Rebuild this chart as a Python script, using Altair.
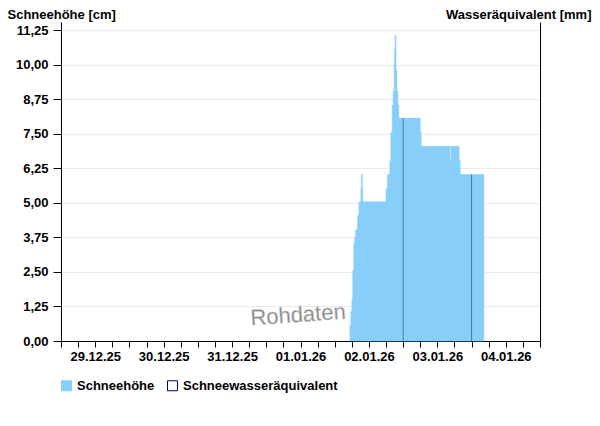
import altair as alt
import pandas as pd

# --- data ---------------------------------------------------------------
snow_times = [
    "2026-01-02T05:20", "2026-01-02T05:40", "2026-01-02T06:00", "2026-01-02T06:20",
    "2026-01-02T06:40", "2026-01-02T07:00", "2026-01-02T07:20", "2026-01-02T08:00",
    "2026-01-02T08:30", "2026-01-02T09:10", "2026-01-02T09:20", "2026-01-02T09:40",
    "2026-01-02T09:50", "2026-01-02T18:00", "2026-01-02T18:30", "2026-01-02T19:20",
    "2026-01-02T19:40", "2026-01-02T20:10", "2026-01-02T20:30", "2026-01-02T20:50",
    "2026-01-02T21:00", "2026-01-02T21:10", "2026-01-02T21:30", "2026-01-02T21:50",
    "2026-01-02T22:10", "2026-01-02T22:30", "2026-01-03T06:00", "2026-01-03T06:20",
    "2026-01-03T16:30", "2026-01-03T16:50", "2026-01-03T19:40", "2026-01-03T20:00",
    "2026-01-04T04:20",
]
snow_values = [
    0.55, 1.07, 1.50, 2.55,
    3.52, 3.77, 4.03, 4.54,
    5.04, 5.51, 6.03, 5.51,
    5.04, 5.51, 6.03, 6.52,
    7.55, 8.54, 9.05, 10.06,
    10.55, 11.06, 9.80, 9.05,
    8.54, 8.07, 7.55, 7.05,
    6.54, 7.05, 6.54, 6.03,
    6.03,
]
we_times = ["2026-01-03T00:00", "2026-01-04T00:00"]
we_values = [8.07, 6.03]

series_names = ["Schneehöhe", "Schneewasseräquivalent"]
y_ticks = [0, 1.25, 2.5, 3.75, 5.0, 6.25, 7.5, 8.75, 10.0, 11.25]
x_start, x_end = "2025-12-29T00:00", "2026-01-05T00:00"
y_max = 11.55

# --- tables ---------------------------------------------------------------
snow_df = pd.DataFrame({
    "t": [s + ":00Z" for s in snow_times],
    "v": snow_values,
    "serie": series_names[0],
})
we_df = pd.DataFrame({
    "t": [s + ":00Z" for s in we_times],
    "v": we_values,
    "zero": [0.0] * len(we_values),
})

def ms(s):
    return int(pd.Timestamp(s, tz="UTC").value // 10**6)

x_ticks = list(range(ms(x_start), ms(x_end) + 1, 6 * 3600 * 1000))

FONT = "Liberation Sans"
FS = 13

x_axis = alt.Axis(
    values=x_ticks,
    labelExpr="utchours(datum.value) == 12 ? utcFormat(datum.value, '%d.%m.%y') : ''",
    title=None, grid=False, tickSize=6, labelPadding=3,
    domainColor="black", tickColor="black",
    labelFont=FONT, labelFontSize=FS, labelFontWeight="bold", labelColor="black",
    labelOverlap=False, labelFlush=False,
)
x_scale = alt.Scale(type="utc", domain=[ms(x_start), ms(x_end)], nice=False)

legend = alt.Legend(
    title=None, orient="none", legendX=-1, legendY=357,
    direction="horizontal", symbolType="square", symbolSize=100,
    labelFont=FONT, labelFontSize=FS, labelFontWeight="bold", labelColor="black",
    columnPadding=10, symbolOpacity=1, symbolStrokeWidth=1,
)

area = alt.Chart(snow_df).mark_area(interpolate="step-after", opacity=1, strokeWidth=0.5).encode(
    x=alt.X("t:T", scale=x_scale, axis=x_axis),
    y=alt.Y(
        "v:Q",
        scale=alt.Scale(domain=[0, y_max], nice=False, zero=True),
        axis=alt.Axis(
            values=y_ticks,
            labelExpr="replace(format(datum.value, '.2f'), '.', ',')",
            title="Schneehöhe [cm]", titleAngle=0, titleAlign="left",
            titleBaseline="top", titleX=-54, titleY=-14,
            titleFont=FONT, titleFontSize=FS, titleFontWeight="bold", titleColor="black",
            tickSize=8, labelPadding=5, domainColor="black", tickColor="black",
            gridColor="#ebebeb", labelFont=FONT, labelFontSize=FS,
            labelFontWeight="bold", labelColor="black",
        ),
    ),
    fill=alt.Fill(
        "serie:N",
        scale=alt.Scale(domain=series_names, range=["#87cefa", "#ffffff"]),
        legend=legend,
    ),
    stroke=alt.Stroke(
        "serie:N",
        scale=alt.Scale(domain=series_names, range=["#87cefa", "#000080"]),
        legend=legend,
    ),
)

we = alt.Chart(we_df).mark_rule(color="#4a78a0", strokeWidth=1).encode(
    x=alt.X("t:T", scale=x_scale, axis=x_axis),
    y=alt.Y(
        "v:Q",
        scale=alt.Scale(domain=[0, y_max], nice=False, zero=True),
        axis=alt.Axis(
            orient="right", labels=False, ticks=False, grid=False,
            domainColor="black",
            title="Wasseräquivalent [mm]", titleAngle=0, titleAlign="right",
            titleBaseline="top", titleX=51, titleY=-14,
            titleFont=FONT, titleFontSize=FS, titleFontWeight="bold", titleColor="black",
        ),
    ),
    y2="zero:Q",
)

mark_text = alt.Chart(pd.DataFrame({"label": ["Rohdaten"]})).mark_text(
    font=FONT, fontSize=22, color="#858585", angle=356,
    align="center", baseline="middle", stroke="#d0d0d0", strokeWidth=0.5,
).encode(x=alt.value(237), y=alt.value(293), text="label:N")

chart = (
    alt.layer(area, we, mark_text)
    .resolve_scale(y="independent")
    .properties(
        width=479, height=319,
        autosize=alt.AutoSizeParams(type="none"),
        padding={"left": 53, "top": 14, "right": 52, "bottom": 77},
        background="white",
    )
    .configure_view(stroke=None)
)

chart.save("out.html", embed_options={"renderer": "svg", "actions": False})
